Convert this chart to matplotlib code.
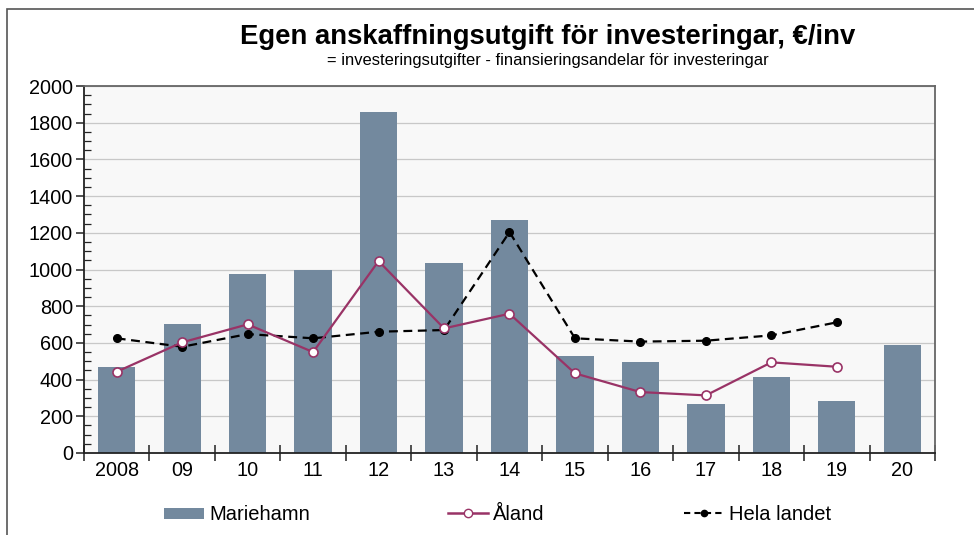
import matplotlib
matplotlib.use("Agg")
import matplotlib.pyplot as plt
from matplotlib.patches import Rectangle
from matplotlib.lines import Line2D
from matplotlib.patches import Patch
import numpy as np

plt.rcParams['font.family'] = ['Liberation Sans', 'DejaVu Sans']

categories = ["2008", "09", "10", "11", "12", "13", "14", "15", "16", "17", "18", "19", "20"]
mariehamn = [470, 701, 977, 997, 1860, 1034, 1272, 527, 496, 265, 414, 282, 589]
aland = [443, 603, 701, 550, 1046, 679, 759, 434, 332, 314, 494, 470]
hela_landet = [625, 579, 648, 625, 661, 670, 1204, 625, 607, 612, 641, 712]

title = "Egen anskaffningsutgift för investeringar, €/inv"
subtitle = "= investeringsutgifter - finansieringsandelar för investeringar"

bar_color = "#73899E"
aland_color = "#993366"

fig = plt.figure(figsize=(9.74, 5.35), dpi=100)
W, H = 974, 535
ax = fig.add_axes([84 / W, 1 - 453 / H, (935 - 84) / W, (453 - 86) / H])
ax.set_facecolor("#F8F8F8")

x = np.arange(len(categories))
ax.bar(x, mariehamn, width=0.57, color=bar_color, zorder=2)
xa = np.arange(len(aland))
ax.plot(xa, aland, color=aland_color, lw=1.6, marker="o", ms=6.5,
        mfc="white", mec=aland_color, mew=1.2, zorder=4)
xh = np.arange(len(hela_landet))
ax.plot(xh, hela_landet, color="black", lw=1.6, ls=(0, (4, 2.5)), marker="o", ms=5.5,
        mfc="black", mec="black", zorder=3)

ax.set_xlim(-0.5, len(categories) - 0.5)
ax.set_ylim(0, 2000)
ax.set_yticks(np.arange(0, 2001, 200))
ax.set_yticks(np.arange(0, 2001, 50), minor=True)
ax.yaxis.grid(True, which="major", color="#C8C8C8", lw=0.9, zorder=1)
ax.set_axisbelow(True)

ax.set_xticks(np.arange(len(categories) + 1) - 0.5)
ax.set_xticklabels([])
ax.set_xticks(x, minor=True)
ax.set_xticklabels(categories, minor=True, fontsize=14.3)
ax.tick_params(axis="x", which="major", direction="inout", length=12, width=1.1, color="#222222")
ax.tick_params(axis="x", which="minor", length=0, pad=6)
ax.tick_params(axis="y", which="major", direction="out", length=6, width=1.1, labelsize=14.3, color="#222222", pad=2)
ax.tick_params(axis="y", which="minor", direction="in", length=5, width=0.9, color="#222222")

for s in ["left", "bottom"]:
    ax.spines[s].set_color("#222222")
    ax.spines[s].set_linewidth(1.3)
for s in ["top", "right"]:
    ax.spines[s].set_color("#666666")
    ax.spines[s].set_linewidth(1.3)

fig.text(548 / W, 1 - 37 / H, title, ha="center", va="center", fontsize=19.8, fontweight="bold")
fig.text(548 / W, 1 - 60 / H, subtitle, ha="center", va="center", fontsize=11.9)

# outer frame
fig.patches.append(Rectangle((7 / W, -0.05), 1.1, 1 - 9 / H + 0.05, transform=fig.transFigure,
                             fill=False, ec="#555555", lw=1.2))

# legend entries
handles = [
    (Patch(facecolor=bar_color, edgecolor="none"), "Mariehamn", 164, 0.45),
    (Line2D([], [], color=aland_color, lw=1.8, marker="o", ms=6, mfc="white", mec=aland_color), "Åland", 448, 0.7),
    (Line2D([], [], color="black", lw=1.5, ls=(0, (3, 2)), marker="o", ms=4.5, mfc="black"), "Hela landet", 684, 0.7),
]
for h, lab, px, hh in handles:
    leg = fig.legend([h], [lab], loc="center left", bbox_to_anchor=(px / W, 1 - 515 / H),
                     frameon=False, fontsize=14.5, handlelength=2.0, handletextpad=0.25,
                     handleheight=hh, borderaxespad=0, borderpad=0)

fig.savefig("out.png", dpi=100)
